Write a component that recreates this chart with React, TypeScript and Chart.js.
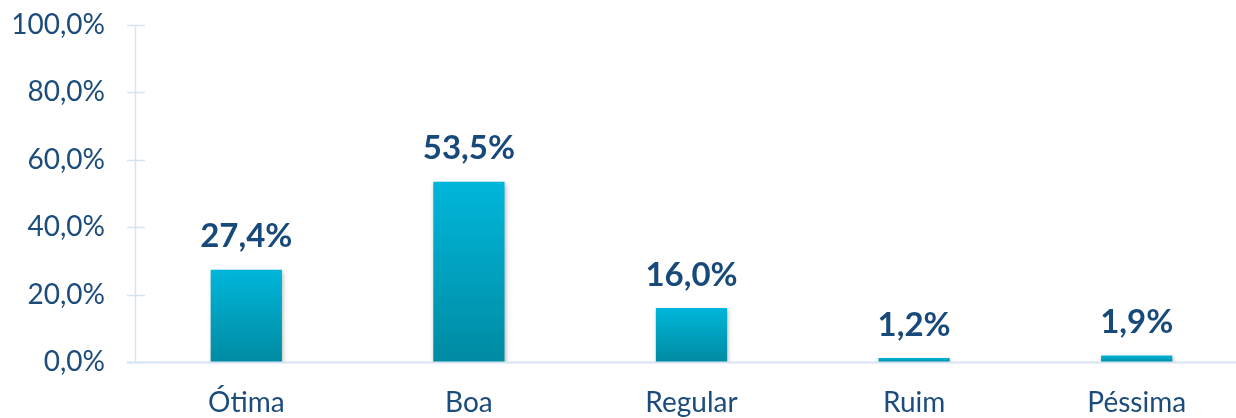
import React, { useEffect, useRef } from "react";
import { Chart, registerables } from "chart.js";

Chart.register(...registerables);

const categories = ["Ótima", "Boa", "Regular", "Ruim", "Péssima"];
const values = [27.4, 53.5, 16.0, 1.2, 1.9];
const yTicks = [0, 20, 40, 60, 80, 100];

const TEXT = "#1B4C7B";
const AXIS = "#D5E3F2";
const FONT = "Lato, 'Open Sans', sans-serif";

const fmt = (v: number) => v.toFixed(1).replace(".", ",") + "%";

const shadowPlugin = {
  id: "barShadow",
  beforeDatasetsDraw(chart: any) {
    const ctx = chart.ctx;
    ctx.save();
    ctx.shadowColor = "rgba(0,0,0,0.28)";
    ctx.shadowBlur = 4;
    ctx.shadowOffsetX = 1;
    ctx.shadowOffsetY = 2;
  },
  afterDatasetsDraw(chart: any) {
    chart.ctx.restore();
  },
};

const labelPlugin = {
  id: "valueLabels",
  afterDraw(chart: any) {
    const ctx = chart.ctx;
    const meta = chart.getDatasetMeta(0);
    ctx.save();
    ctx.fillStyle = "#17497A";
    ctx.font = `bold 33px ${FONT}`;
    ctx.textAlign = "center";
    ctx.textBaseline = "middle";
    meta.data.forEach((bar: any, i: number) => {
      ctx.fillText(fmt(values[i]), bar.x, bar.y - 33);
    });
    ctx.restore();
  },
};

const axisTicksPlugin = {
  id: "axisCrossTicks",
  afterDraw(chart: any) {
    const ctx = chart.ctx;
    const y = chart.scales.y;
    const x0 = chart.chartArea.left;
    ctx.save();
    ctx.strokeStyle = AXIS;
    ctx.lineWidth = 1.5;
    yTicks.forEach((t) => {
      const py = Math.round(y.getPixelForValue(t)) + 0.5;
      ctx.beginPath();
      ctx.moveTo(x0 - 8, py);
      ctx.lineTo(x0 + 10, py);
      ctx.stroke();
    });
    ctx.beginPath();
    ctx.moveTo(x0 + 0.5, y.getPixelForValue(100));
    ctx.lineTo(x0 + 0.5, y.getPixelForValue(0));
    ctx.stroke();
    const py0 = Math.round(y.getPixelForValue(0)) + 0.5;
    ctx.lineWidth = 2;
    ctx.beginPath();
    ctx.moveTo(x0 - 8, py0);
    ctx.lineTo(chart.chartArea.right, py0);
    ctx.stroke();
    ctx.restore();
  },
};

export default function App() {
  const ref = useRef<HTMLCanvasElement | null>(null);
  useEffect(() => {
    if (!ref.current) return;
    const chart = new Chart(ref.current, {
      type: "bar",
      data: {
        labels: categories,
        datasets: [
          {
            data: values,
            barPercentage: 0.32,
            categoryPercentage: 1,
            backgroundColor: (context: any) => {
              const c = context.chart;
              const ys = c.scales && c.scales.y;
              const v = context.raw;
              if (!ys || typeof v !== "number") return "#00A8C8";
              const top = ys.getPixelForValue(v);
              const bottom = ys.getPixelForValue(0);
              if (!isFinite(top) || !isFinite(bottom) || bottom - top < 1) return "#00B2D4";
              const g = c.ctx.createLinearGradient(0, top, 0, bottom);
              g.addColorStop(0, "#00B6DA");
              g.addColorStop(1, "#008BA2");
              return g;
            },
            borderWidth: 0,
          },
        ],
      },
      options: {
        animation: false,
        responsive: false,
        maintainAspectRatio: false,
        layout: { padding: { top: 25, right: 2, left: 0, bottom: 0 } },
        plugins: { legend: { display: false }, tooltip: { enabled: false } },
        scales: {
          x: {
            grid: { display: false, drawTicks: false },
            border: { display: false },
            ticks: { color: TEXT, font: { family: FONT, size: 28 }, padding: 24 },
            afterFit: (s: any) => {
              s.height = 56;
              s.paddingTop = 0;
              s.paddingBottom = 0;
            },
          },
          y: {
            min: 0,
            max: 100,
            grid: { display: false, drawTicks: false },
            border: { display: false },
            ticks: {
              stepSize: 20,
              color: TEXT,
              font: { family: FONT, size: 28 },
              padding: 30,
              callback: (v: any) => fmt(Number(v)),
            },
            afterFit: (s: any) => {
              s.width = 135;
              s.paddingTop = 0;
              s.paddingBottom = 0;
            },
          },
        },
      },
      plugins: [shadowPlugin, labelPlugin, axisTicksPlugin],
    });
    return () => chart.destroy();
  }, []);
  return (
    <div style={{ position: "fixed", left: 0, top: 0, width: 1250, height: 418, background: "#fff" }}>
      <canvas ref={ref} width={1250} height={418} style={{ display: "block" }} />
    </div>
  );
}
